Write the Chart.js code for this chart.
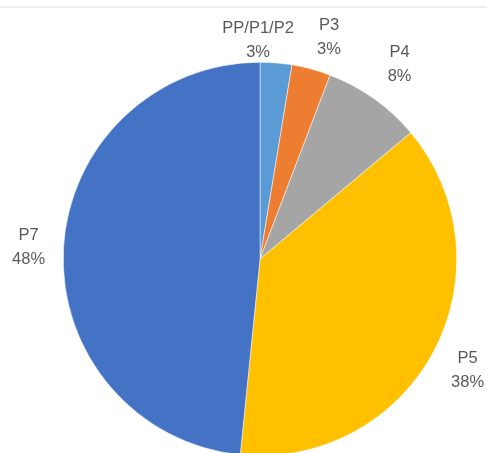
<!DOCTYPE html>
<html>
<head>
<meta charset="utf-8">
<script src="https://cdn.jsdelivr.net/npm/chart.js@4"></script>
<style>
  html, body { margin: 0; padding: 0; background: #fff; overflow: hidden; }
  #wrap { position: relative; width: 487px; height: 470px; }
  #topline { position: absolute; left: 0; top: 6px; width: 487px; height: 0; border-top: 2px solid #f0f0f0; }
</style>
</head>
<body>
<div id="wrap">
  <div id="topline"></div>
  <canvas id="myChart" width="487" height="470"></canvas>
</div>
<script>
const categorias = ['PP/P1/P2', 'P3', 'P4', 'P5', 'P7'];
const valores = [2.6, 3.2, 8.1, 37.7, 48.4];
const colores = ['#5B9BD5', '#ED7D31', '#A5A5A5', '#FFC000', '#4472C4'];

const total = valores.reduce((a, b) => a + b, 0);

// etiquetas fuera de la torta, al estilo de Excel
const etiquetasFuera = {
    id: 'etiquetasFuera',
    afterDatasetsDraw(chart, args, opts) {
        const ctx = chart.ctx;
        const meta = chart.getDatasetMeta(0);
        const ajustes = opts.ajustes || [];
        ctx.save();
        ctx.font = '16.5px "Liberation Sans", Arial, sans-serif';
        ctx.fillStyle = '#595959';
        ctx.textAlign = 'center';
        ctx.textBaseline = 'middle';
        meta.data.forEach((arc, i) => {
            const p = arc.getProps(['x', 'y', 'startAngle', 'endAngle', 'outerRadius'], true);
            const mid = (p.startAngle + p.endAngle) / 2;
            const d = p.outerRadius + 37;
            const aj = ajustes[i] || { dx: 0, dy: 0 };
            const cx = p.x + Math.cos(mid) * d + aj.dx;
            const cy = p.y + Math.sin(mid) * d + aj.dy;
            const pct = Math.round(valores[i] / total * 100) + '%';
            ctx.fillText(categorias[i], cx, cy - 12);
            ctx.fillText(pct, cx, cy + 12);
        });
        ctx.restore();
    }
};

const ctx = document.getElementById('myChart').getContext('2d');
const myChart = new Chart(ctx, {
    type: 'pie',
    data: {
        labels: categorias,
        datasets: [{
            data: valores,
            backgroundColor: colores,
            borderColor: '#ffffff',
            borderWidth: 0.5
        }]
    },
    options: {
        responsive: false,
        animation: false,
        layout: {
            padding: { top: 62, bottom: 14, left: 63, right: 30 }
        },
        plugins: {
            legend: { display: false },
            tooltip: { enabled: false },
            // separa las etiquetas chicas para que no se pisen
            etiquetasFuera: {
                ajustes: [
                    { dx: -21, dy: 14 },
                    { dx: 8, dy: 4 },
                    { dx: 4, dy: -4 },
                    { dx: 1, dy: 2 },
                    { dx: 2, dy: 0 }
                ]
            }
        }
    },
    plugins: [etiquetasFuera]
});
</script>
</body>
</html>
